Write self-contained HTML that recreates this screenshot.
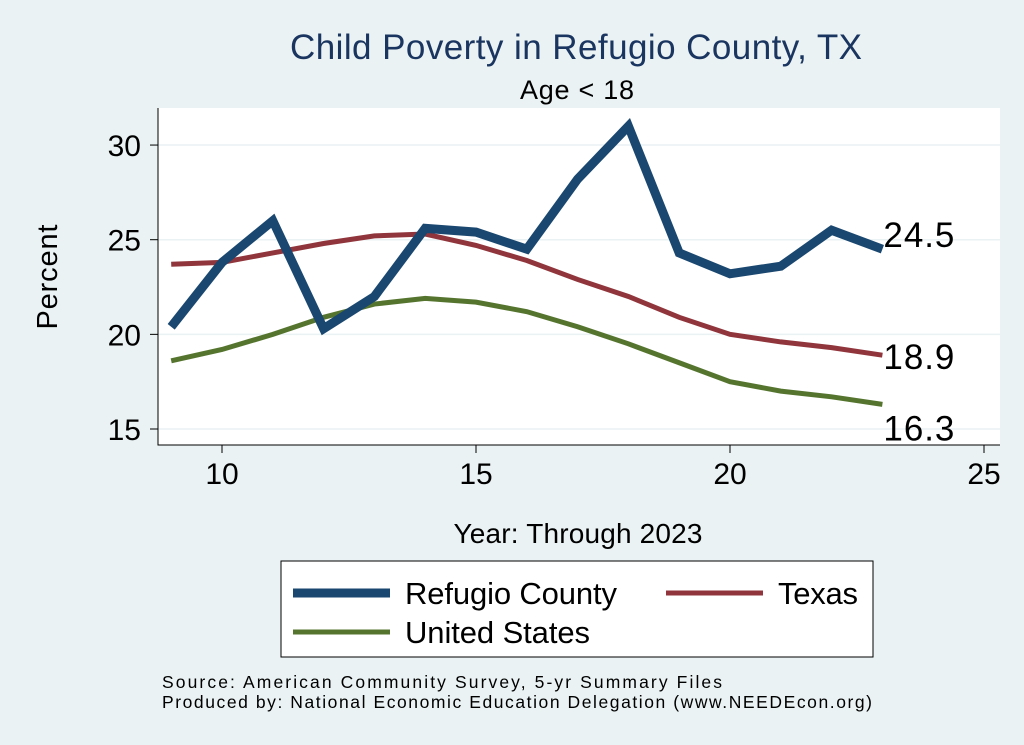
<!DOCTYPE html>
<html><head><meta charset="utf-8"><style>
body{margin:0;background:#eaf2f3;font-family:"Liberation Sans",sans-serif}
svg{display:block}
</style></head><body>
<svg id="chart" width="1024" height="745" xmlns="http://www.w3.org/2000/svg">
<rect width="1024" height="745" fill="#eaf2f3"/>
<rect x="158" y="108" width="842" height="337" fill="#fff"/>
<text x="576" y="59" font-size="35" fill="#1a3560" text-anchor="middle" textLength="572">Child Poverty in Refugio County, TX</text>
<text x="577" y="99" font-size="27" text-anchor="middle" textLength="114">Age &lt; 18</text>
<text x="0" y="0" font-size="29" text-anchor="middle" textLength="105" transform="translate(57 277) rotate(-90)">Percent</text>
<text x="578" y="543" font-size="28" text-anchor="middle" textLength="249">Year: Through 2023</text>
<g id="grid"></g><g id="axes"></g><g id="series"></g>
<rect x="281" y="561" width="592" height="96" fill="#fff" stroke="#000" stroke-width="1"/>
<line x1="293" y1="593" x2="390" y2="593" stroke="#1a476f" stroke-width="9"/>
<text x="405" y="604" font-size="31" textLength="212">Refugio County</text>
<line x1="666" y1="593" x2="763" y2="593" stroke="#90353b" stroke-width="5"/>
<text x="778" y="604" font-size="31" textLength="80">Texas</text>
<line x1="293" y1="632" x2="390" y2="632" stroke="#55752f" stroke-width="5"/>
<text x="405" y="643" font-size="31" textLength="185">United States</text>
<text x="162" y="688" font-size="17.5" textLength="560">Source: American Community Survey, 5-yr Summary Files</text>
<text x="162" y="708" font-size="17.5" textLength="710">Produced by: National Economic Education Delegation (www.NEEDEcon.org)</text>
</svg>
<script>
const years=[9,10,11,12,13,14,15,16,17,18,19,20,21,22,23];
const refugio=[20.4,23.8,26.0,20.3,22.0,25.6,25.4,24.5,28.2,31.0,24.3,23.2,23.6,25.5,24.5];
const texas=[23.7,23.8,24.3,24.8,25.2,25.3,24.7,23.9,22.9,22.0,20.9,20.0,19.6,19.3,18.9];
const us=[18.6,19.2,20.0,20.9,21.6,21.9,21.7,21.2,20.4,19.5,18.5,17.5,17.0,16.7,16.3];
const xTicks=[10,15,20,25];
const yTicks=[15,20,25,30];
const NS='http://www.w3.org/2000/svg';
const X=v=>222+(v-10)*50.8;
const Y=v=>429-(v-15)*18.93;
function mk(tag,at,parent){const e=document.createElementNS(NS,tag);for(const k in at)e.setAttribute(k,at[k]);document.getElementById(parent).appendChild(e);return e;}
yTicks.forEach(t=>{
 let g=mk('line',{x1:158,x2:1000,y1:Y(t),y2:Y(t),stroke:'#eaf2f3','stroke-width':1.5},'grid');
 
 
 let tk=mk('line',{x1:150,x2:158,y1:Y(t),y2:Y(t),stroke:'#000'},'axes');
 
 
 let tx=mk('text',{x:141,y:Y(t)+11,'font-size':30,'text-anchor':'end'},'axes');tx.textContent=t;
 
 
});
xTicks.forEach(t=>{
 let tk=mk('line',{x1:X(t),x2:X(t),y1:445,y2:453,stroke:'#000'},'axes');
 
 
 let tx=mk('text',{x:X(t),y:484,'font-size':30,'text-anchor':'middle'},'axes');tx.textContent=t;
 
 
});
let ax=mk('path',{d:'M158 108V445H1000',fill:'none',stroke:'#000'},'axes');


function series(vals,color,w,name,labelDy){
 const d=vals.map((v,i)=>(i?'L':'M')+X(years[i])+' '+Y(v)).join(' ');
 let p=mk('path',{d:d,fill:'none',stroke:color,'stroke-width':w,'stroke-linejoin':'miter'},'series');
 
 
 const last=vals[vals.length-1];
 let t=mk('text',{x:X(years[years.length-1])+1,y:Y(last)+labelDy,'font-size':35,textLength:71},'series');
 t.textContent=last.toFixed(1);
 
 
}
series(texas,'#90353b',5,'texas',14);
series(us,'#55752f',5,'us',36);
series(refugio,'#1a476f',9,'refugio',-2);
</script>
</body></html>
